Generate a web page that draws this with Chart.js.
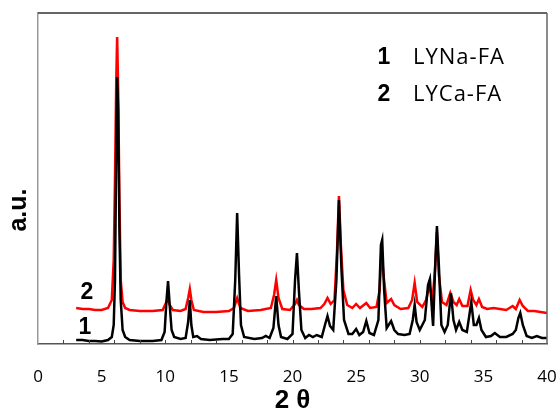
<!DOCTYPE html>
<html>
<head>
<meta charset="utf-8">
<script src="https://cdn.jsdelivr.net/npm/chart.js@4.4.0/dist/chart.umd.min.js"></script>
<style>
  html, body { margin: 0; padding: 0; background: #fff; }
  #wrap { width: 558px; height: 419px; }
</style>
</head>
<body>
<div id="wrap"><canvas id="graph" width="558" height="419"></canvas></div>
<script>
// Sample 1 (LYNa-FA), black trace: 2 theta and intensity (a.u.)
const thetaNa = [3.0, 3.5, 4.0, 4.5, 5.0, 5.5, 5.8, 5.95, 6.05, 6.15, 6.22, 6.3, 6.4, 6.5, 6.65, 6.85, 7.2, 8.0, 9.0, 9.7,
  9.95, 10.1, 10.22, 10.35, 10.5, 10.7, 11.2, 11.6, 11.8, 11.93, 12.05, 12.2, 12.5, 12.8, 13.5, 14.5, 15.0, 15.3, 15.5, 15.65,
  15.8, 15.95, 16.2, 17.0, 17.6, 17.9, 18.2, 18.5, 18.72, 18.9, 19.1, 19.6, 20.0, 20.2, 20.35, 20.5, 20.7, 21.0, 21.3, 21.6,
  21.9, 22.3, 22.55, 22.75, 22.95, 23.2, 23.45, 23.65, 23.85, 24.05, 24.4, 24.7, 25.0, 25.25, 25.55, 25.8, 26.05, 26.4, 26.75, 26.95,
  27.05, 27.2, 27.4, 27.75, 28.0, 28.3, 28.8, 29.2, 29.45, 29.6, 29.75, 30.0, 30.4, 30.65, 30.8, 31.0, 31.05, 31.2, 31.35, 31.5,
  31.7, 31.95, 32.2, 32.45, 32.65, 32.85, 33.1, 33.35, 33.7, 33.9, 34.05, 34.25, 34.45, 34.65, 34.85, 35.2, 35.6, 35.9, 36.3, 36.8,
  37.3, 37.55, 37.75, 37.9, 38.1, 38.4, 38.8, 39.2, 39.6, 40.0];
const intensityNa = [4, 4, 3, 3, 2.5, 4, 7, 19, 64, 194, 267, 234, 114, 44, 14, 7, 4, 3, 3, 4,
  12, 44, 63, 39, 14, 7, 5, 6, 22, 44, 19, 7, 8, 5, 4, 5, 5, 10, 64, 131,
  69, 19, 7, 5, 6, 8, 6, 16, 48, 19, 7, 5, 10, 64, 91, 54, 14, 6, 9, 7,
  9, 7, 19, 28, 18, 14, 64, 144, 74, 24, 10, 10, 15, 9, 12, 23, 11, 9, 24, 99,
  104, 54, 16, 23, 14, 10, 9, 10, 24, 39, 22, 14, 24, 59, 65, 26, 18, 74, 118, 79,
  19, 12, 19, 51, 24, 14, 22, 14, 12, 29, 42, 19, 19, 26, 14, 7, 8, 11, 7, 7,
  10, 14, 26, 31, 19, 8, 6, 8, 6, 6];

// Sample 2 (LYCa-FA), red trace
const thetaCa = [3.0, 3.5, 4.0, 4.5, 5.0, 5.5, 5.8, 5.95, 6.05, 6.15, 6.22, 6.3, 6.4, 6.5, 6.65, 6.85, 7.2, 8.0, 9.0, 9.8,
  10.05, 10.2, 10.35, 10.6, 11.2, 11.6, 11.8, 11.93, 12.05, 12.25, 13.0, 14.0, 15.0, 15.4, 15.65, 15.9, 16.5, 17.5, 18.3, 18.55,
  18.72, 18.9, 19.2, 19.8, 20.2, 20.35, 20.5, 20.9, 21.5, 22.2, 22.5, 22.75, 23.0, 23.3, 23.5, 23.65, 23.8, 24.0, 24.3, 24.7,
  25.0, 25.3, 25.8, 26.1, 26.6, 26.85, 27.0, 27.15, 27.4, 27.75, 28.0, 28.5, 29.1, 29.4, 29.6, 29.8, 30.2, 30.5, 30.75, 31.0,
  31.2, 31.35, 31.5, 31.75, 32.1, 32.4, 32.65, 32.9, 33.1, 33.35, 33.75, 34.0, 34.2, 34.45, 34.65, 34.9, 35.3, 35.8, 36.3, 36.8,
  37.3, 37.55, 37.85, 38.1, 38.5, 39.0, 39.5, 40.0];
const intensityCa = [36, 35, 35, 34, 34, 36, 44, 84, 164, 264, 307, 254, 144, 64, 42, 36, 34, 33, 33, 34,
  41, 45, 39, 34, 33, 35, 46, 55, 44, 34, 32, 32, 33, 36, 46, 36, 33, 34, 36, 49,
  64, 46, 35, 34, 40, 44, 39, 35, 35, 36, 40, 46, 40, 44, 94, 148, 99, 54, 39, 36,
  40, 36, 41, 36, 37, 54, 94, 69, 41, 45, 39, 35, 36, 44, 61, 42, 37, 44, 59, 44,
  74, 112, 69, 42, 39, 51, 42, 39, 45, 38, 38, 54, 44, 39, 45, 37, 35, 36, 35, 34,
  38, 35, 44, 38, 33, 33, 32, 31];

// Axis ranges and labelled x ticks
const xMin = 0;
const xMax = 40;
const xLabelTicks = [0, 5, 10, 15, 20, 25, 30, 35, 40];
const xMarkTicks = [2, 4, 6, 8, 10, 12, 14, 16, 18, 20, 22, 24, 26, 28, 30, 32, 34, 36, 38];

const toPoints = (xs, ys) => xs.map((x, i) => ({ x: x, y: ys[i] }));

// Frame, inside tick marks, curve numbers and the legend text
const decorations = {
  id: 'decorations',
  afterDraw(chart) {
    const ctx = chart.ctx;
    const area = chart.chartArea;
    const xs = chart.scales.x;
    ctx.save();

    // top and right frame lines
    ctx.strokeStyle = '#333';
    ctx.lineWidth = 1.5;
    ctx.beginPath();
    ctx.moveTo(area.left, area.top);
    ctx.lineTo(area.right, area.top);
    ctx.stroke();
    ctx.strokeStyle = '#666';
    ctx.beginPath();
    ctx.moveTo(area.right, area.top);
    ctx.lineTo(area.right, area.bottom);
    ctx.stroke();

    // small ticks pointing up into the plot
    ctx.strokeStyle = '#444';
    ctx.lineWidth = 1;
    xMarkTicks.forEach(v => {
      const px = Math.round(xs.getPixelForValue(v)) + 0.5;
      ctx.beginPath();
      ctx.moveTo(px, area.bottom);
      ctx.lineTo(px, area.bottom - 4);
      ctx.stroke();
    });

    // y axis title
    ctx.fillStyle = '#000';
    ctx.font = 'bold 25px "Liberation Sans", Arial, sans-serif';
    ctx.textAlign = 'center';
    ctx.textBaseline = 'middle';
    ctx.save();
    ctx.translate(19, 210);
    ctx.rotate(-Math.PI / 2);
    ctx.fillText('a.u.', 0, 0);
    ctx.restore();

    // curve numbers
    ctx.font = 'bold 23px "Liberation Sans", Arial, sans-serif';
    ctx.fillText('2', area.left + 49, 293);
    ctx.fillText('1', area.left + 47, 328);

    // legend
    ctx.fillText('1', 384, 58);
    ctx.fillText('2', 384, 95);
    ctx.font = '22px "Open Sans", sans-serif';
    ctx.letterSpacing = '1px';
    ctx.textAlign = 'left';
    ctx.fillText('LYNa-FA', 413, 58);
    ctx.fillText('LYCa-FA', 413, 95);

    ctx.restore();
  }
};

const ctx = document.getElementById('graph').getContext('2d');
const chart = new Chart(ctx, {
  type: 'line',
  data: {
    datasets: [{
      label: 'LYNa-FA',
      data: toPoints(thetaNa, intensityNa),
      borderColor: '#000000',
      borderWidth: 2.5,
      pointRadius: 0,
      tension: 0,
      fill: false
    }, {
      label: 'LYCa-FA',
      data: toPoints(thetaCa, intensityCa),
      borderColor: '#ff0000',
      borderWidth: 2.5,
      pointRadius: 0,
      tension: 0,
      fill: false
    }]
  },
  options: {
    responsive: false,
    animation: false,
    layout: {
      padding: { left: 38, right: 11, top: 13, bottom: 0 }
    },
    scales: {
      x: {
        type: 'linear',
        min: xMin,
        max: xMax,
        grid: { display: false },
        border: { display: true, color: '#555', width: 1.5 },
        afterBuildTicks: scale => {
          scale.ticks = xLabelTicks.map(v => ({ value: v }));
        },
        afterFit: scale => {
          scale.height = 75;
          scale.paddingLeft = 0;
          scale.paddingRight = 0;
        },
        ticks: {
          autoSkip: false,
          maxRotation: 0,
          padding: 15,
          color: '#000',
          font: { family: '"Open Sans", sans-serif', size: 17 }
        },
        title: {
          display: true,
          text: '2 θ',
          color: '#000',
          padding: { top: 2, bottom: 3 },
          font: { family: '"Liberation Sans", Arial, sans-serif', size: 26, weight: 'bold' }
        }
      },
      y: {
        min: 0,
        max: 331,
        grid: { display: false },
        border: { display: true, color: '#999', width: 1.5 },
        ticks: { display: false },
        afterFit: scale => {
          scale.width = 0;
        }
      }
    },
    plugins: {
      legend: { display: false },
      tooltip: { enabled: false }
    }
  },
  plugins: [decorations]
});
</script>
</body>
</html>
